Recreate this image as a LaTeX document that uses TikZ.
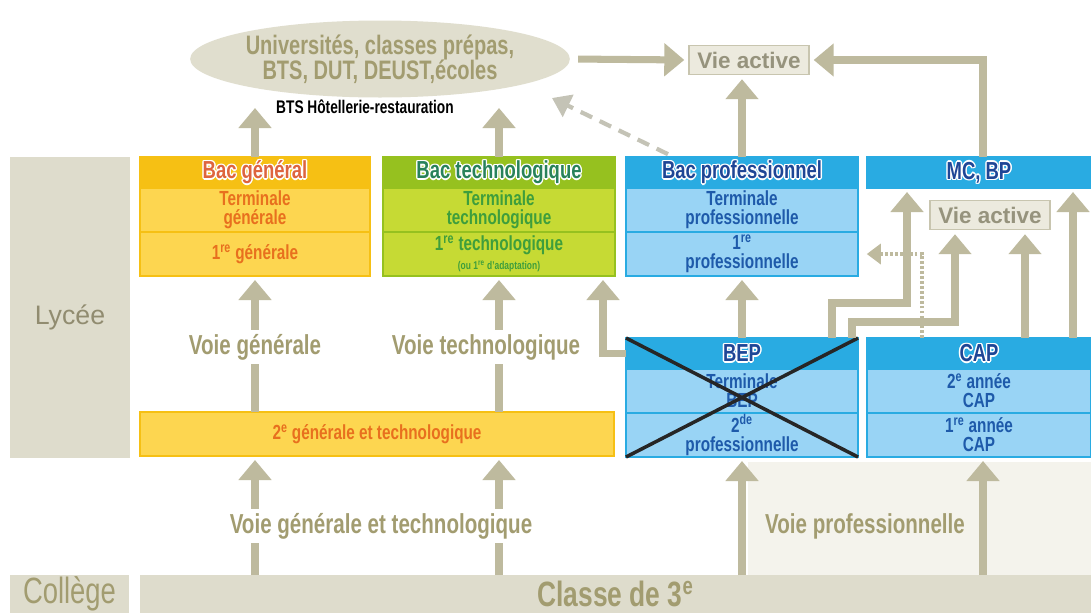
\documentclass[tikz,border=0pt]{standalone}
\usepackage{fontspec}
\setmainfont{Liberation Sans}
\newfontfamily\cond{Liberation Sans}[FakeStretch=0.75]
\usetikzlibrary{positioning,shapes.geometric,arrows.meta}

\newlength\unitpx
\setlength\unitpx{0.025cm}

\definecolor{khaki}{RGB}{190,186,158}
\definecolor{khakiT}{RGB}{162,156,112}
\definecolor{lycT}{RGB}{145,140,112}
\definecolor{bandc}{RGB}{222,220,204}
\definecolor{ellc}{RGB}{224,222,206}
\definecolor{softc}{RGB}{244,243,236}
\definecolor{dashc}{RGB}{196,195,182}
\definecolor{vieF}{RGB}{236,234,222}
\definecolor{vieD}{RGB}{200,197,175}
\definecolor{vieT}{RGB}{150,147,125}
\definecolor{yelH}{RGB}{246,192,20}
\definecolor{yelR}{RGB}{253,214,80}
\definecolor{yelT}{RGB}{232,112,30}
\definecolor{yelHT}{RGB}{222,100,62}
\definecolor{greH}{RGB}{150,193,31}
\definecolor{greR}{RGB}{198,218,52}
\definecolor{greT}{RGB}{62,158,60}
\definecolor{greHT}{RGB}{40,130,90}
\definecolor{bluH}{RGB}{41,171,226}
\definecolor{bluR}{RGB}{153,212,245}
\definecolor{bluT}{RGB}{30,90,170}
\definecolor{bluHT}{RGB}{30,70,150}

% white glow round the header texts
\newcommand\haloat[3]{\rlap{\kern#1\raisebox{#2}{\textcolor{white}{#3}}}}
\newcommand\glowtxt[1]{\haloat{1pt}{0pt}{#1}\haloat{-1pt}{0pt}{#1}\haloat{0pt}{1pt}{#1}\haloat{0pt}{-1pt}{#1}%
  \haloat{.7pt}{.7pt}{#1}\haloat{-.7pt}{.7pt}{#1}\haloat{.7pt}{-.7pt}{#1}\haloat{-.7pt}{-.7pt}{#1}#1}

\tikzset{
  band/.style={fill=bandc, inner sep=0pt, outer sep=0pt},
  hdr/.style 2 args={draw=#1, fill=#1, text=#2, line width=1.5pt, inner sep=0pt, outer sep=0pt,
    minimum height=31\unitpx, font=\cond\bfseries\fontsize{17.5}{18}\selectfont},
  cell/.style n args={3}{draw=#1, fill=#2, text=#3, line width=1.5pt, inner sep=0pt, outer sep=0pt,
    minimum height=44\unitpx, align=center, font=\cond\bfseries\fontsize{14.5}{13.5}\selectfont},
  voie/.style={text=khakiT, inner sep=3pt, font=\cond\bfseries\fontsize{19.5}{20}\selectfont},
  vie/.style={draw=vieD, fill=vieF, text=vieT, line width=1pt, minimum width=120\unitpx,
    minimum height=29\unitpx, inner sep=0pt, font=\bfseries\fontsize{16}{16}\selectfont},
  arr/.style={draw=khaki, line width=5pt, -{Triangle[width=0.8cm,length=0.5cm]}, shorten >=0.1cm},
  seg/.style={draw=khaki, line width=5pt},
  dsh/.style={draw=dashc, line width=3pt, dash pattern=on 9pt off 6pt, -{Triangle[width=0.6cm,length=0.45cm]}},
  dotarr/.style={draw=khaki, line width=3.5pt, dash pattern=on 2pt off 1.5pt,
    -{Triangle[width=0.5cm,length=0.35cm]}, shorten >=0.22cm}
}

\begin{document}
\begin{tikzpicture}[x=0.025cm,y=-0.025cm]
\useasboundingbox (0,0) rectangle (1091,613);
\fill[white] (0,0) rectangle (1091,613);
\fill[softc] (748,462) rectangle (1091,575);

% bands on the left and at the bottom
\node[band, anchor=north west, minimum width=120\unitpx, minimum height=301\unitpx] (lyc) at (10,157) {};
\node[text=lycT, font=\fontsize{19}{19}\selectfont] (lyct) at (70,317) {Lycée};
\node[band, anchor=north west, minimum width=119\unitpx, minimum height=38\unitpx, text=khakiT,
  font=\cond\fontsize{26}{26}\selectfont] (col) at (10,575) {Collège};
\node[band, anchor=north west, minimum width=951\unitpx, minimum height=38\unitpx, text=khakiT,
  font=\cond\bfseries\fontsize{25}{25}\selectfont] (cl3) at (140,575) {Classe de 3\textsuperscript{e}};

% top
\node[ellipse, fill=ellc, minimum width=340\unitpx, minimum height=77\unitpx, inner sep=0pt, align=center,
  text=khakiT, font=\cond\bfseries\fontsize{19}{18}\selectfont] (univ) at (380,59)
  {Universités, classes prépas,\\BTS, DUT, DEUST,écoles};
\node[font=\cond\bfseries\fontsize{13}{13}\selectfont] (bts) at (365,107) {BTS Hôtellerie-restauration};
\node[vie] (vie1) at (749,60) {Vie active};
\node[vie] (vie2) at (990,215) {Vie active};

% bacs
\node[hdr={yelH}{yelHT}, minimum width=230\unitpx, anchor=north west] (bacg) at (140,157) {\glowtxt{Bac général}};
\node[cell={yelH}{yelR}{yelT}, minimum width=230\unitpx, below=0pt of bacg] (bacgT) {Terminale\\générale};
\node[cell={yelH}{yelR}{yelT}, minimum width=230\unitpx, below=0pt of bacgT] (bacgP) {1\textsuperscript{re} générale};

\node[hdr={greH}{greHT}, minimum width=232\unitpx, anchor=north west] (bact) at (383,157) {\glowtxt{Bac technologique}};
\node[cell={greH}{greR}{greT}, minimum width=232\unitpx, below=0pt of bact] (bactT) {Terminale\\technologique};
\node[cell={greH}{greR}{greT}, minimum width=232\unitpx, below=0pt of bactT] (bactP)
  {1\textsuperscript{re} technologique\\{\fontsize{8}{10}\selectfont (ou 1\textsuperscript{re} d’adaptation)}};

\node[hdr={bluH}{bluHT}, minimum width=232\unitpx, anchor=north west] (bacp) at (626,157) {\glowtxt{Bac professionnel}};
\node[cell={bluH}{bluR}{bluT}, minimum width=232\unitpx, below=0pt of bacp] (bacpT) {Terminale\\professionnelle};
\node[cell={bluH}{bluR}{bluT}, minimum width=232\unitpx, below=0pt of bacpT] (bacpP) {1\textsuperscript{re}\\professionnelle};

\node[hdr={bluH}{bluHT}, minimum width=224\unitpx, anchor=north west] (mcbp) at (867,157) {\glowtxt{MC, BP}};

% seconde, BEP, CAP
\node[cell={yelH}{yelR}{yelT}, minimum width=474\unitpx, anchor=north west] (sec) at (140,412)
  {2\textsuperscript{e} générale et technologique};

\node[hdr={bluH}{bluHT}, minimum width=232\unitpx, anchor=north west] (bep) at (626,338) {\glowtxt{BEP}};
\node[cell={bluH}{bluR}{bluT}, minimum width=232\unitpx, below=0pt of bep] (bepT) {Terminale\\BEP};
\node[cell={bluH}{bluR}{bluT}, minimum width=232\unitpx, below=0pt of bepT] (bepS) {2\textsuperscript{de}\\professionnelle};

\node[hdr={bluH}{bluHT}, minimum width=224\unitpx, anchor=north west] (cap) at (867,338) {\glowtxt{CAP}};
\node[cell={bluH}{bluR}{bluT}, minimum width=224\unitpx, below=0pt of cap] (capB) {2\textsuperscript{e} année\\CAP};
\node[cell={bluH}{bluR}{bluT}, minimum width=224\unitpx, below=0pt of capB] (capA) {1\textsuperscript{re} année\\CAP};

\draw[line width=2.5pt, black!85] (bep.north west) -- (bepS.south east) (bepS.south west) -- (bep.north east);

% labels of the ways
\node[voie] (vg) at (255,347) {Voie générale};
\node[voie] (vt) at (486,347) {Voie technologique};
\node[voie] (vgt) at (381,526) {Voie générale et technologique};
\node[voie] (vp) at (865,526) {Voie professionnelle};

% Name the coordinates, but do not draw anything:
\coordinate (tg) at (255,104);
\coordinate (tt) at (499,104);
\coordinate (de) at (552,98);
\coordinate (ka) at (832,303);
\coordinate (kb) at (907,303);
\coordinate (kc) at (852,322);
\coordinate (kd) at (955,322);
\coordinate (ke) at (922,0);
\coordinate (kf) at (1025,0);
\coordinate (kh) at (1073,0);
\coordinate (kg) at (983,0);
\coordinate (ki) at (603,0);

% arrows at the top
\draw[arr] (bacg.north) -- (tg);
\draw[arr] (bact.north) -- (tt);
\draw[arr, shorten <=0.2cm] (univ.east) -- (vie1.west);
\draw[arr] (bacp.north) -- (vie1.south -| bacp.north);
\draw[arr] (mcbp.north -| kg) |- (vie1.east);
\draw[dsh] ([xshift=42\unitpx,yshift=2pt]bacp.north west) -- (de);

% arrows in the lycee
\draw[seg] (sec.north -| bacg.south) -- (vg.south -| bacg.south);
\draw[arr] (vg.north -| bacg.south) -- (bacgP.south);
\draw[seg] (sec.north -| bact.south) -- (vt.south -| bact.south);
\draw[arr] (vt.north -| bact.south) -- (bactP.south);
\draw[arr] (bep.west) -| (bactP.south -| ki);
\draw[arr] (bep.north) -- (bacpP.south);
\draw[arr] (bep.north -| ka) |- (kb) -- (mcbp.south -| kb);
\draw[arr] (bep.north -| kc) |- (kd) -- (vie2.south -| kd);
\draw[arr] (cap.north -| kf) -- (vie2.south -| kf);
\draw[arr] (cap.north -| kh) -- (mcbp.south -| kh);
\draw[dotarr] (bep.north -| ke) |- (bacpP.east);

% arrows from the college
\draw[seg] (cl3.north -| bacg.south) -- (vgt.south -| bacg.south);
\draw[arr] (vgt.north -| bacg.south) -- (sec.south -| bacg.south);
\draw[seg] (cl3.north -| bact.south) -- (vgt.south -| bact.south);
\draw[arr] (vgt.north -| bact.south) -- (sec.south -| bact.south);
\draw[arr] (cl3.north -| bep.south) -- (bepS.south);
\draw[arr] (cl3.north -| kg) -- (capA.south -| kg);
\end{tikzpicture}
\end{document}
